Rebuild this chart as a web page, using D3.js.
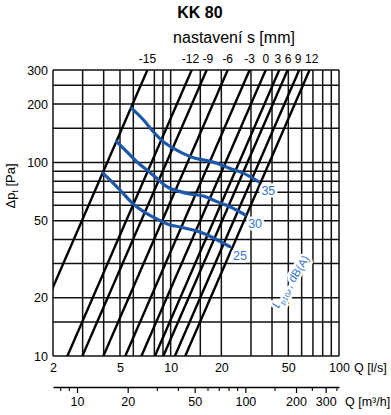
<!DOCTYPE html>
<html><head><meta charset="utf-8">
<script src="https://cdn.jsdelivr.net/npm/d3@7"></script>
<style>
body{margin:0;background:#fff}
svg{display:block}
text{font-family:"Liberation Sans",Arial,Helvetica,sans-serif}
</style>
</head><body>
<svg id="chart" width="391" height="415"></svg>
<script>
// ---- data ----
const settings = [-15, -12, -9, -6, -3, 0, 3, 6, 9, 12];               // nastavení s [mm]
const settingQ100 = [4.2, 7.7, 9.45, 12.6, 17.0, 21.2, 25.5, 28.6, 33.5, 38.6]; // Q [l/s] at 100 Pa
const qGrid = [2, 3, 4, 5, 6, 8, 9, 10, 15, 20, 30, 40, 50, 60, 70, 80, 90, 100];
const pGrid = [10, 15, 20, 30, 40, 50, 60, 70, 80, 90, 100, 150, 200, 250, 300];
const qTicks = [2, 5, 10, 20, 50, 100];
const pTicks = [10, 20, 50, 100, 200, 300];
const m3hMajor = [10, 20, 50, 100, 200, 300];
const m3hMinor = [8, 9, 30, 40, 60, 70, 80, 90, 150, 250, 350];
const noiseLevels = [35, 30, 25];
const curve35Q = [5.87, 6.88, 7.89, 9.04, 10.4, 11.9, 14.0, 15.6, 18.8, 22.5, 27.0, 33.2];
const curve35P = [190, 166, 144, 128, 118, 111, 105, 103, 99, 93, 88, 79.5];
const curve30Q = [4.78, 5.48, 6.29, 7.21, 8.27, 9.48, 11.4, 13.0, 15.6, 18.8, 22.5, 27.7];
const curve30P = [128, 113.6, 100.8, 91.4, 82.8, 74.9, 70.6, 68.7, 67, 62.7, 59, 53.5];
const curve25Q = [3.98, 5.0, 6.0, 6.88, 8.27, 9.91, 11.4, 13.6, 16.5, 19.7, 22.5];
const curve25P = [87.8, 72.0, 60.9, 55.8, 51.0, 47.5, 46.4, 44.7, 42.2, 39.0, 36.7];

// ---- layout ----
const L = 53, R = 339, T = 70, B = 356;
const svg = d3.select("#chart");
const x = d3.scaleLog().domain([2, 100]).range([L, R]);
const y = d3.scaleLog().domain([10, 300]).range([B, T]);
const xm = d3.scaleLog().domain([7.2, 360]).range([L, R]);
const blue = "#1d58a8", labelBlue = "#3476cc";
const FONT = '"Liberation Sans",Arial,Helvetica,sans-serif';

svg.append("rect").attr("width", 391).attr("height", 415).attr("fill", "#fff");
svg.append("defs").append("clipPath").attr("id", "plot")
  .append("rect").attr("x", L).attr("y", T).attr("width", R - L).attr("height", B - T);

// grid
const grid = svg.append("g").attr("stroke", "#111").attr("stroke-width", 1.5);
grid.selectAll("line.v").data(qGrid).join("line").attr("class", "v")
  .attr("x1", d => x(d)).attr("x2", d => x(d)).attr("y1", T).attr("y2", B);
grid.selectAll("line.h").data(pGrid).join("line").attr("class", "h")
  .attr("x1", L).attr("x2", R).attr("y1", d => y(d)).attr("y2", d => y(d));

// setting lines  (dp = 100 * (Q/Q100)^2)
const plot = svg.append("g").attr("clip-path", "url(#plot)");
plot.selectAll("line.s").data(settingQ100).join("line").attr("class", "s")
  .attr("x1", q => x(q * Math.sqrt(8 / 100))).attr("y1", y(8))
  .attr("x2", q => x(q * Math.sqrt(400 / 100))).attr("y2", y(400))
  .attr("stroke", "#000").attr("stroke-width", 2.4);

// setting labels on top (at each line's top end, spread apart to avoid collisions)
const topLabels = svg.append("g").selectAll("text").data(settings).join("text")
  .attr("y", 63).attr("text-anchor", "middle").attr("font-size", 12).attr("fill", "#000")
  .text(d => d);
const pos = settingQ100.map(q => x(q * Math.sqrt(3)));
const wid = topLabels.nodes().map(n => n.getComputedTextLength());
const gap = 3.5;
for (let it = 0; it < 200; it++) {
  for (let i = 1; i < pos.length; i++) {
    const need = wid[i - 1] / 2 + wid[i] / 2 + gap;
    const have = pos[i] - pos[i - 1];
    if (have < need) { const d = (need - have) / 2; pos[i - 1] -= d; pos[i] += d; }
  }
}
topLabels.attr("x", (d, i) => pos[i]);

// noise curves
const curves = [[curve35Q, curve35P], [curve30Q, curve30P], [curve25Q, curve25P]];
const lineGen = d3.line().x(d => x(d[0])).y(d => y(d[1])).curve(d3.curveMonotoneX);
curves.forEach(([qs, ps], i) => {
  const pts = qs.map((q, j) => [q, ps[j]]);
  plot.append("path").attr("d", lineGen(pts)).attr("fill", "none")
    .attr("stroke", blue).attr("stroke-width", 3.2).attr("stroke-linecap", "round");
  const last = pts[pts.length - 1];
  svg.append("text").attr("x", x(last[0]) + 3).attr("y", y(last[1]) + 13)
    .attr("font-size", 12.5).attr("fill", labelBlue)
    .attr("stroke", "#fff").attr("stroke-width", 5).attr("paint-order", "stroke")
    .text(noiseLevels[i]);
});

// L_p10A label
const lp = svg.append("text").attr("transform", `translate(${x(54)},${y(20) - 14}) rotate(-58)`)
  .attr("text-anchor", "middle").attr("font-size", 11.5).attr("fill", labelBlue)
  .attr("stroke", "#fff").attr("stroke-width", 5).attr("paint-order", "stroke");
lp.append("tspan").text("L");
lp.append("tspan").attr("font-size", 7.5).attr("dy", 3).text("p10A");
lp.append("tspan").attr("dy", -3).text(", dB(A)");

// y axis labels
const yAxis = svg.append("g").attr("transform", `translate(${L},0)`)
  .call(d3.axisLeft(y).tickValues(pTicks).tickSize(0).tickPadding(5).tickFormat(d3.format("d")));
yAxis.select(".domain").remove();
yAxis.selectAll("text").attr("font-size", 12.5).attr("fill", "#000").attr("font-family", FONT);

// x axis (l/s)
const xAxis = svg.append("g").attr("transform", `translate(0,${B})`)
  .call(d3.axisBottom(x).tickValues(qTicks).tickSize(0).tickPadding(7).tickFormat(d3.format("d")));
xAxis.select(".domain").remove();
xAxis.selectAll("text").attr("font-size", 12.5).attr("fill", "#000").attr("font-family", FONT);
svg.append("text").attr("x", x(100) + 15).attr("y", 372).attr("font-size", 12.5).text("Q [l/s]");

// m3/h axis
const mAxis = svg.append("g").attr("transform", "translate(0,387)")
  .call(d3.axisBottom(xm).tickValues(m3hMajor).tickSize(6).tickSizeOuter(0).tickPadding(4).tickFormat(d3.format("d")));
mAxis.select(".domain").attr("stroke", "#000").attr("stroke-width", 1.3);
mAxis.selectAll(".tick line").attr("stroke", "#000").attr("stroke-width", 1.2);
mAxis.selectAll("text").attr("font-size", 12.5).attr("fill", "#000").attr("font-family", FONT);
mAxis.selectAll("line.minor").data(m3hMinor).join("line").attr("class", "minor")
  .attr("x1", d => xm(d)).attr("x2", d => xm(d)).attr("y1", 0).attr("y2", 4)
  .attr("stroke", "#000").attr("stroke-width", 1.1);
svg.append("text").attr("x", 345).attr("y", 406).attr("font-size", 12.5).text("Q [m³/h]");

// titles
svg.append("text").attr("x", 200).attr("y", 18).attr("text-anchor", "middle")
  .attr("font-size", 16).attr("font-weight", "bold").text("KK 80");
svg.append("text").attr("x", 234).attr("y", 43).attr("text-anchor", "middle")
  .attr("font-size", 16).text("nastavení s [mm]");

// y title
const yt = svg.append("text").attr("transform", "translate(15,186) rotate(-90)")
  .attr("text-anchor", "middle").attr("font-size", 13);
yt.append("tspan").text("Δp");
yt.append("tspan").attr("font-size", 8.5).attr("dy", 3).text("t");
yt.append("tspan").attr("dy", -3).text(" [Pa]");
</script>
</body></html>
